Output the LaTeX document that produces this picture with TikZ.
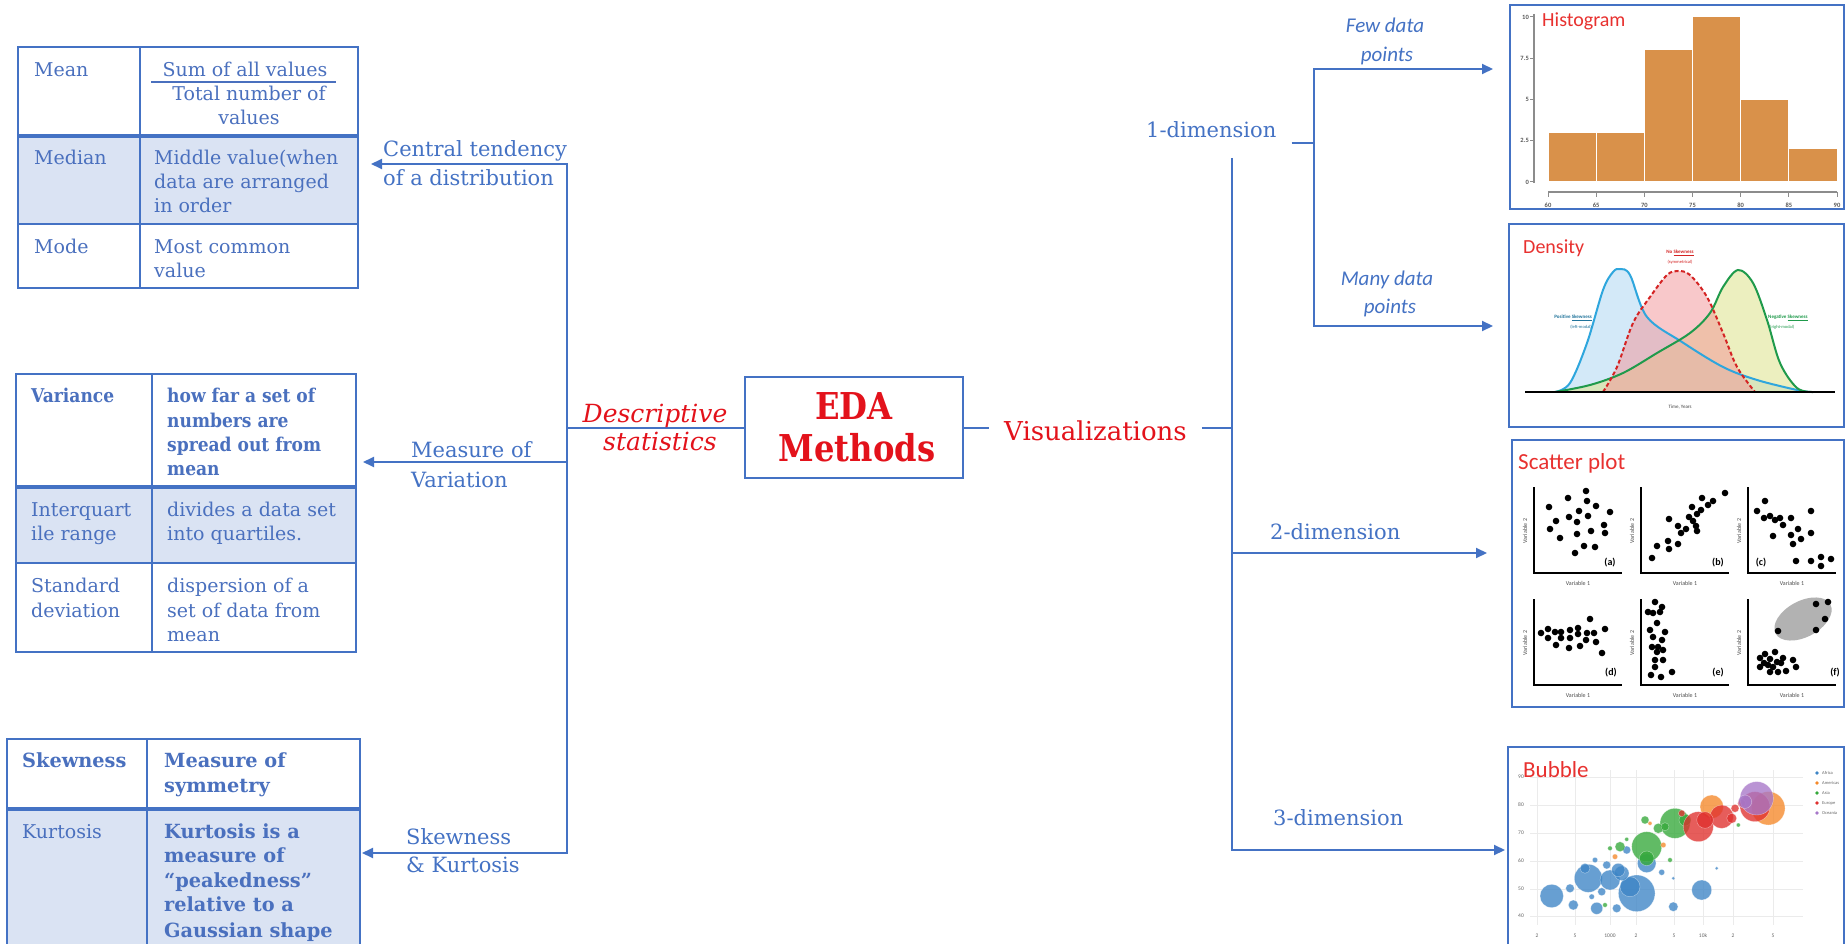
\documentclass[tikz,border=0pt]{standalone}
\usepackage{fontspec}
\setmainfont{DejaVu Serif}
\newfontfamily\calib{Carlito}
\usetikzlibrary{arrows.meta}

\definecolor{eblue}{HTML}{4472C4}
\definecolor{tblue}{HTML}{4A70BE}
\definecolor{ered}{HTML}{E3121B}
\definecolor{lred}{HTML}{E8312F}
\definecolor{cellshade}{HTML}{DAE3F3}
\definecolor{horange}{HTML}{D9914A}
\definecolor{cblue}{HTML}{2EA6DD}
\definecolor{cred}{HTML}{D42323}
\definecolor{cgreen}{HTML}{1F9A4B}
\definecolor{fblue}{HTML}{A8D4F2}
\definecolor{fred}{HTML}{F39396}
\definecolor{fyel}{HTML}{DEE28C}
\definecolor{bafr}{HTML}{3D85C6}
\definecolor{bame}{HTML}{F5892A}
\definecolor{basia}{HTML}{35A93A}
\definecolor{beur}{HTML}{E0302E}
\definecolor{boce}{HTML}{A777C9}

\begin{document}
\begin{tikzpicture}[x=1pt, y=1pt,
  conn/.style={draw=eblue, line width=2pt},
  tip/.style={-{Triangle[length=11pt, width=10pt]}},
  tbl/.style={draw=eblue, line width=2pt},
  cell/.style={text=tblue, font=\fontsize{19}{24}\selectfont, inner sep=0pt, anchor=base west},
  bcell/.style={cell, font=\fontsize{19}{24}\selectfont\bfseries, xscale=0.9},
  bcellw/.style={cell, font=\fontsize{19.5}{24}\selectfont\bfseries, xscale=0.99},
  lbl/.style={text=eblue, font=\fontsize{21}{28}\selectfont, inner sep=0pt, anchor=base west},
  sanslbl/.style={text=eblue, font=\calib\itshape\fontsize{21}{26}\selectfont, inner sep=0pt, anchor=base},
  edat/.style={text=ered, font=\fontsize{37}{40}\selectfont\bfseries, inner sep=0pt, anchor=base, xscale=0.87},
  redit/.style={text=ered, font=\fontsize{25}{28}\selectfont\itshape, inner sep=0pt, anchor=base},
  frame/.style={draw=eblue, line width=2pt},
  plottitle/.style={text=lred, font=\calib, inner sep=0pt, anchor=base west},
  tinyg/.style={text=black!60, font=\calib\fontsize{5.5}{6}\selectfont, inner sep=0pt},
  tinyb/.style={text=black!65, font=\calib\bfseries\fontsize{6.5}{7}\selectfont, inner sep=0pt},
  varlab/.style={text=black!70, font=\calib\fontsize{6}{7}\selectfont, inner sep=0pt},
  panlab/.style={text=black, font=\calib\bfseries\fontsize{10}{11}\selectfont, inner sep=0pt},
  dot/.style={fill=black},
  gridc/.style={draw=black!8, line width=0.6pt},
  bub/.style={fill opacity=0.78, draw=white, draw opacity=0.5, line width=0.4pt},
  scax/.pic={
    \draw[black, line width=2.6pt] (0,86) -- (0,0) -- (88,0);
    \node[varlab] (-v1) at (44,-10) {Variable 1};
    \node[varlab, rotate=90] (-v2) at (-9,42) {Variable 2};
  }
]
\fill[white] (0,0) rectangle (1847,-944);
\useasboundingbox (0,0) rectangle (1847,-944);

% ---------- table: central tendency ----------
\fill[cellshade] (18,-136) rectangle (358,-224);
\draw[tbl] (18,-47) rectangle (358,-288);
\draw[tbl] (140,-47) -- (140,-288);
\draw[tbl, line width=3.5pt] (18,-136) -- (358,-136);
\draw[tbl] (18,-224) -- (358,-224);
\node[cell] (mean) at (34,-77) {Mean};
\node[cell, anchor=base] (sum) at (245,-77) {Sum of all values};
\draw[draw=tblue, line width=1.5pt] (151,-82) -- (336,-82);
\node[cell, anchor=base] (tot) at (249,-101) {Total number of};
\node[cell, anchor=base] (vals) at (249,-125) {values};
\node[cell] (med) at (34,-165) {Median};
\node[cell] (med1) at (154,-165) {Middle value(when};
\node[cell] (med2) at (154,-189) {data are arranged};
\node[cell] (med3) at (154,-213) {in order};
\node[cell] (mode) at (34,-253) {Mode};
\node[cell] (mode1) at (154,-253) {Most common};
\node[cell] (mode2) at (154,-277) {value};

% ---------- table: variation ----------
\fill[cellshade] (16,-487) rectangle (356,-563);
\draw[tbl] (16,-374) rectangle (356,-652);
\draw[tbl] (152,-374) -- (152,-652);
\draw[tbl, line width=3.5pt] (16,-487) -- (356,-487);
\draw[tbl] (16,-563) -- (356,-563);
\node[bcell] (var) at (31,-402) {Variance};
\node[bcell] (var1) at (167,-402) {how far a set of};
\node[bcell] (var2) at (167,-427) {numbers are};
\node[bcell] (var3) at (167,-451) {spread out from};
\node[bcell] (var4) at (167,-475) {mean};
\node[cell] (iqr) at (31,-516) {Interquart};
\node[cell] (iqrb) at (31,-540) {ile range};
\node[cell] (iqr1) at (167,-516) {divides a data set};
\node[cell] (iqr2) at (167,-540) {into quartiles.};
\node[cell] (sd) at (31,-592) {Standard};
\node[cell] (sdb) at (31,-617) {deviation};
\node[cell] (sd1) at (167,-592) {dispersion of a};
\node[cell] (sd2) at (167,-617) {set of data from};
\node[cell] (sd3) at (167,-641) {mean};

% ---------- table: shape ----------
\fill[cellshade] (7,-809) rectangle (360,-960);
\draw[tbl] (7,-960) -- (7,-739) -- (360,-739) -- (360,-960);
\draw[tbl] (147,-739) -- (147,-960);
\draw[tbl, line width=3.5pt] (7,-809) -- (360,-809);
\node[bcellw] (skw) at (22,-767) {Skewness};
\node[bcellw] (skw1) at (164,-767) {Measure of};
\node[bcellw] (skw2) at (164,-792) {symmetry};
\node[cell] (kur) at (22,-838) {Kurtosis};
\node[bcellw] (kur1) at (164,-838) {Kurtosis is a};
\node[bcellw] (kur2) at (164,-862) {measure of};
\node[bcellw] (kur3) at (164,-887) {“peakedness”};
\node[bcellw] (kur4) at (164,-911) {relative to a};
\node[bcellw] (kur5) at (164,-937) {Gaussian shape};

% ---------- left branch ----------
\node[lbl] (ct1) at (383,-157) {Central tendency};
\node[lbl] (ct2) at (383,-186) {of a distribution};
\node[lbl] (mv1) at (411,-457) {Measure of};
\node[lbl] (mv2) at (411,-487) {Variation};
\node[lbl] (sk1) at (406,-844) {Skewness};
\node[lbl] (sk2) at (406,-872) {\& Kurtosis};
\coordinate (ltop) at (567,-164);
\coordinate (lbot) at (567,-853);
\coordinate (tab1) at (371,-164);
\coordinate (tab2) at (363,-462);
\coordinate (tab3) at (362,-853);
\draw[conn, {Triangle[length=11pt, width=10pt]}-{Triangle[length=11pt, width=10pt]}] (tab1) -- (ltop) -- (lbot) -- (tab3);
\draw[conn, tip] (ltop |- tab2) -- (tab2);

% ---------- centre ----------
\node[draw=eblue, line width=2pt, minimum width=218pt, minimum height=101pt, inner sep=0pt] (eda) at (854,-427.5) {};
\node[edat] (edaA) at (854,-419) {EDA};
\node[edat] (edaB) at (857,-461) {Methods};
\draw[conn] (eda.west) -- (eda.west -| ltop);
\node[redit] (ds1) at (655,-422) {Descriptive};
\node[redit] (ds2) at (660,-450) {statistics};

\node[text=ered, font=\fontsize{26}{30}\selectfont, inner xsep=15pt, inner ysep=0pt, anchor=base west] (vis) at (989,-440) {Visualizations};
\coordinate (vtop) at (1232,-158);
\coordinate (vbot) at (1232,-850);
\draw[conn] (eda.east) -- (eda.east -| vis.west);
\draw[conn] (eda.east -| vis.east) -- (eda.east -| vtop);

% ---------- right branch ----------
\node[lbl, inner xsep=15pt] (d1) at (1131,-138) {1-dimension};
\node[lbl] (d2) at (1270,-539) {2-dimension};
\node[lbl] (d3) at (1273,-825) {3-dimension};
\coordinate (bj) at (1314,-143);
\coordinate (b1) at (1314,-69);
\coordinate (b2) at (1314,-326);
\coordinate (hst) at (1493,-69);
\coordinate (den) at (1493,-326);
\coordinate (v2) at (1232,-553);
\coordinate (sct) at (1487,-553);
\coordinate (bbl) at (1505,-850);
\draw[conn] (d1.east |- bj) -- (bj);
\draw[conn, {Triangle[length=11pt, width=10pt]}-{Triangle[length=11pt, width=10pt]}] (hst) -- (b1) -- (b2) -- (den);
\draw[conn, tip] (vtop) -- (vbot) -- (bbl);
\draw[conn, tip] (v2) -- (sct);
\node[sanslbl] (few1) at (1385,-33) {Few data};
\node[sanslbl] (few2) at (1387,-62) {points};
\node[sanslbl] (many1) at (1387,-285) {Many data};
\node[sanslbl] (many2) at (1390,-313) {points};

% ---------- histogram ----------
\draw[frame] (1510,-5) rectangle (1844,-209);
\foreach \h [count=\i from 0] in {3,3,8,10,5,2}
  \fill[horange, draw=white, line width=1pt] ({1548+48.17*\i},-182) rectangle ({1548+48.17*(\i+1)},{-182+16.5*\h});
\draw[black!45, line width=1.2pt] (1534,-14) -- (1534,-183);
\foreach \v/\lab [count=\k] in {0/0,2.5/2.5,5/5,7.5/7.5,10/10} {
  \draw[black!45, line width=1pt] (1530,{-182+16.5*\v}) -- (1534,{-182+16.5*\v});
  \node[tinyb, anchor=east] (hy\k) at (1529,{-182+16.5*\v}) {\lab};
}
\draw[black!45, line width=1.2pt] (1548,-192) -- (1837,-192);
\foreach \lab [count=\k from 0] in {60,65,70,75,80,85,90} {
  \draw[black!45, line width=1pt] ({1548+48.17*\k},-192) -- ({1548+48.17*\k},-197);
  \node[tinyb] (hx\k) at ({1548+48.17*\k},-205) {\lab};
}
\node[plottitle, font=\calib\fontsize{20}{22}\selectfont] (htitle) at (1542,-27) {Histogram};

% ---------- density ----------
\draw[frame] (1509,-224) rectangle (1844,-427);
\fill[fblue, fill opacity=0.5] plot[smooth, tension=0.55] coordinates {(1555,-392) (1570,-383) (1587,-343) (1603,-290) (1613,-272) (1620,-269) (1630,-275) (1647,-317) (1682,-342) (1723,-367) (1757,-380) (1797,-390) (1810,-392)} -- cycle;
\fill[fyel, fill opacity=0.55] plot[smooth, tension=0.55] coordinates {(1555,-392) (1590,-385) (1623,-373) (1657,-353) (1690,-333) (1710,-313) (1723,-287) (1738,-270) (1753,-283) (1767,-320) (1780,-363) (1797,-388) (1813,-392)} -- cycle;
\fill[fred, fill opacity=0.5] plot[smooth, tension=0.55] coordinates {(1603,-392) (1617,-367) (1633,-323) (1650,-297) (1667,-275) (1678,-271) (1690,-275) (1707,-297) (1723,-333) (1737,-367) (1755,-392)} -- cycle;
\draw[cblue, line width=2pt] plot[smooth, tension=0.55] coordinates {(1555,-392) (1570,-383) (1587,-343) (1603,-290) (1613,-272) (1620,-269) (1630,-275) (1647,-317) (1682,-342) (1723,-367) (1757,-380) (1797,-390) (1810,-392)};
\draw[cgreen, line width=2pt] plot[smooth, tension=0.55] coordinates {(1555,-392) (1590,-385) (1623,-373) (1657,-353) (1690,-333) (1710,-313) (1723,-287) (1738,-270) (1753,-283) (1767,-320) (1780,-363) (1797,-388) (1813,-392)};
\draw[cred, line width=2pt, dash pattern=on 4pt off 2.5pt] plot[smooth, tension=0.55] coordinates {(1603,-392) (1617,-367) (1633,-323) (1650,-297) (1667,-275) (1678,-271) (1690,-275) (1707,-297) (1723,-333) (1737,-367) (1755,-392)};
\draw[black, line width=1.6pt] (1525,-392) -- (1835,-392);
\node[plottitle, font=\calib\fontsize{20}{22}\selectfont] (dtitle) at (1523,-253) {Density};
\node[text=cred, font=\calib\bfseries\fontsize{5}{6}\selectfont, inner sep=0pt] (nsk1) at (1680,-253) {No \underline{Skewness}};
\node[text=cred, font=\calib\fontsize{4.5}{5}\selectfont, inner sep=0pt] (nsk2) at (1680,-262) {(symmetrical)};
\node[text=cblue!70!black, font=\calib\bfseries\fontsize{5}{6}\selectfont, inner sep=0pt, anchor=east] (psk1) at (1592,-318) {Positive \underline{Skewness}};
\node[text=cblue!70!black, font=\calib\fontsize{4.5}{5}\selectfont, inner sep=0pt, anchor=east] (psk2) at (1592,-327) {(left-modal)};
\node[text=cgreen, font=\calib\bfseries\fontsize{5}{6}\selectfont, inner sep=0pt, anchor=west] (ngk1) at (1768,-318) {Negative \underline{Skewness}};
\node[text=cgreen, font=\calib\fontsize{4.5}{5}\selectfont, inner sep=0pt, anchor=west] (ngk2) at (1770,-327) {(right-modal)};
\node[text=black!75, font=\calib\fontsize{5}{6}\selectfont, inner sep=0pt] (tyr) at (1680,-407) {Time, Years};

% ---------- scatter plots ----------
\draw[frame] (1512,-440) rectangle (1844,-707);
\node[plottitle, font=\calib\fontsize{23}{25}\selectfont] (stitle) at (1518,-469) {Scatter plot};
\pic (pa) at (1534,-573) {scax};
\pic (pb) at (1641,-573) {scax};
\pic (pc) at (1748,-573) {scax};
\pic (pd) at (1534,-685) {scax};
\pic (pe) at (1641,-685) {scax};
\pic (pf) at (1748,-685) {scax};
\begin{scope}[shift={(1534,-573)}]
  \foreach \x/\y in {15/66, 22/52, 16/44, 34/75, 35/56, 26/35, 43/51, 45/62, 52/82, 53/72, 54/57, 62/67, 57/42, 43/39, 70/48, 71/40, 76/61, 50/27, 61/26, 41/20}
    \fill[dot] (\x,\y) circle (3.3);
  \node[panlab] (la) at (76,10) {(a)};
\end{scope}
\begin{scope}[shift={(1641,-573)}]
  \foreach \x/\y in {11/15, 16/27, 27/32, 28/24, 37/29, 28/54, 37/47, 45/44, 48/56, 52/52, 55/47, 56/42, 51/66, 60/63, 61/75, 67/68, 72/72, 84/80, 56/59, 40/40}
    \fill[dot] (\x,\y) circle (3.3);
  \node[panlab] (lb) at (77,10) {(b)};
\end{scope}
\begin{scope}[shift={(1748,-573)}]
  \foreach \x/\y in {17/72, 9/62, 16/55, 22/57, 27/53, 32/55, 35/48, 43/55, 50/44, 43/38, 53/34, 45/29, 63/62, 63/40, 25/37, 48/12, 63/12, 73/16, 73/7, 83/14}
    \fill[dot] (\x,\y) circle (3.3);
  \node[panlab] (lc) at (13,10) {(c)};
\end{scope}
\begin{scope}[shift={(1534,-685)}]
  \foreach \x/\y in {7/52, 14/56, 14/47, 21/53, 22/40, 27/53, 27/47, 36/55, 36/47, 35/37, 44/57, 44/51, 46/39, 52/45, 56/66, 60/52, 62/43, 71/56, 68/32, 53/52}
    \fill[dot] (\x,\y) circle (3.3);
  \node[panlab] (ld) at (77,12) {(d)};
\end{scope}
\begin{scope}[shift={(1641,-685)}]
  \foreach \x/\y in {14/83, 7/73, 12/72, 19/73, 16/62, 9/55, 24/53, 12/48, 21/45, 11/38, 17/38, 22/35, 14/25, 22/25, 14/18, 10/10, 20/8, 31/13, 16/33, 21/78}
    \fill[dot] (\x,\y) circle (3.3);
  \node[panlab] (le) at (77,12) {(e)};
\end{scope}
\begin{scope}[shift={(1748,-685)}]
  \fill[black!30, rotate around={28:(55,66)}] (55,66) ellipse (31 and 18);
  \foreach \x/\y in {30/54, 68/81, 80/83, 77/66, 68/55, 12/27, 17/31, 22/26, 27/33, 20/20, 25/18, 29/23, 35/27, 16/22, 12/18, 30/13, 22/13, 38/14, 45/25, 48/18, 33/22}
    \fill[dot] (\x,\y) circle (3.3);
  \node[panlab] (lf) at (87,12) {(f)};
\end{scope}

% ---------- bubble chart ----------
\draw[frame] (1508,-965) -- (1508,-747) -- (1844,-747) -- (1844,-965);
\foreach \yy in {777,805,833,861,889,916} \draw[gridc] (1530,-\yy) -- (1803,-\yy);
\foreach \xx in {1537,1575,1610,1636,1674,1703,1733,1773} \draw[gridc] (\xx,-770) -- (\xx,-925);
\foreach \yy/\lab [count=\k] in {777/90,805/80,833/70,861/60,889/50,916/40}
  \node[tinyg, anchor=east] (by\k) at (1524,-\yy) {\lab};
\foreach \xx/\lab [count=\k] in {1537/2,1575/5,1610/1000,1636/2,1674/5,1703/10k,1733/2,1773/5}
  \node[tinyg] (bx\k) at (\xx,-936) {\lab};
% Africa
\foreach \x/\y/\r in {1551.7/896/11.7, 1588.3/878.3/14, 1610/880/10, 1636.7/893.3/18.3, 1630/886.7/10, 1621.7/873.3/7.3, 1646.7/863.3/9.3, 1585/868.3/5, 1570/888.3/4.3, 1573.3/905/5, 1596.7/908.3/6, 1616.7/908.3/4.3, 1601.7/891.7/4, 1606.7/865/4, 1626.7/850/4, 1701.7/890/10, 1673.3/906.7/4.7, 1661.7/872.3/3, 1716.7/868.3/1.7, 1673.3/878.3/1.7, 1591.7/896.7/2.7, 1618.3/870/6.7, 1595/860/2.7}
  \fill[bafr, bub] (\x,-\y) circle (\r);
% Asia
\foreach \x/\y/\r in {1646.7/846.7/15, 1675/823.3/15, 1646.7/858.3/7.3, 1658.3/828.3/5, 1620/846.7/5, 1645/820/4, 1670/860/2.3, 1685/820/6, 1610/848.3/2.3, 1605/905/2.3, 1626.7/839.3/2, 1738.3/825/2, 1665/826.7/4}
  \fill[basia, bub] (\x,-\y) circle (\r);
% Americas
\foreach \x/\y/\r in {1768.3/808.3/16.7, 1711.7/806.7/11.7, 1663.3/845/2.7, 1615/856.7/2.7, 1650/823.3/2}
  \fill[bame, bub] (\x,-\y) circle (\r);
% Europe
\foreach \x/\y/\r in {1698.3/826.7/15, 1721.7/816.7/11.7, 1705/820/8.3, 1731.7/818.3/5, 1735/808.3/4, 1755/806.7/15, 1681.7/813.3/3.3, 1741.7/803.3/4}
  \fill[beur, bub] (\x,-\y) circle (\r);
% Oceania
\foreach \x/\y/\r in {1756.7/798.3/16.7, 1745/801.7/6.7}
  \fill[boce, bub] (\x,-\y) circle (\r);
\node[plottitle, font=\calib\fontsize{23}{25}\selectfont] (btitle) at (1523,-777) {Bubble};
\foreach \yy/\c/\lab [count=\k] in {773/bafr/Africa, 783/bame/Americas, 793/basia/Asia, 803/beur/Europe, 813/boce/Oceania} {
  \fill[\c] (1817,-\yy) circle (1.8);
  \node[tinyg, anchor=west, font=\calib\fontsize{4.5}{5}\selectfont] (lg\k) at (1822,-\yy) {\lab};
}
\end{tikzpicture}
\end{document}
